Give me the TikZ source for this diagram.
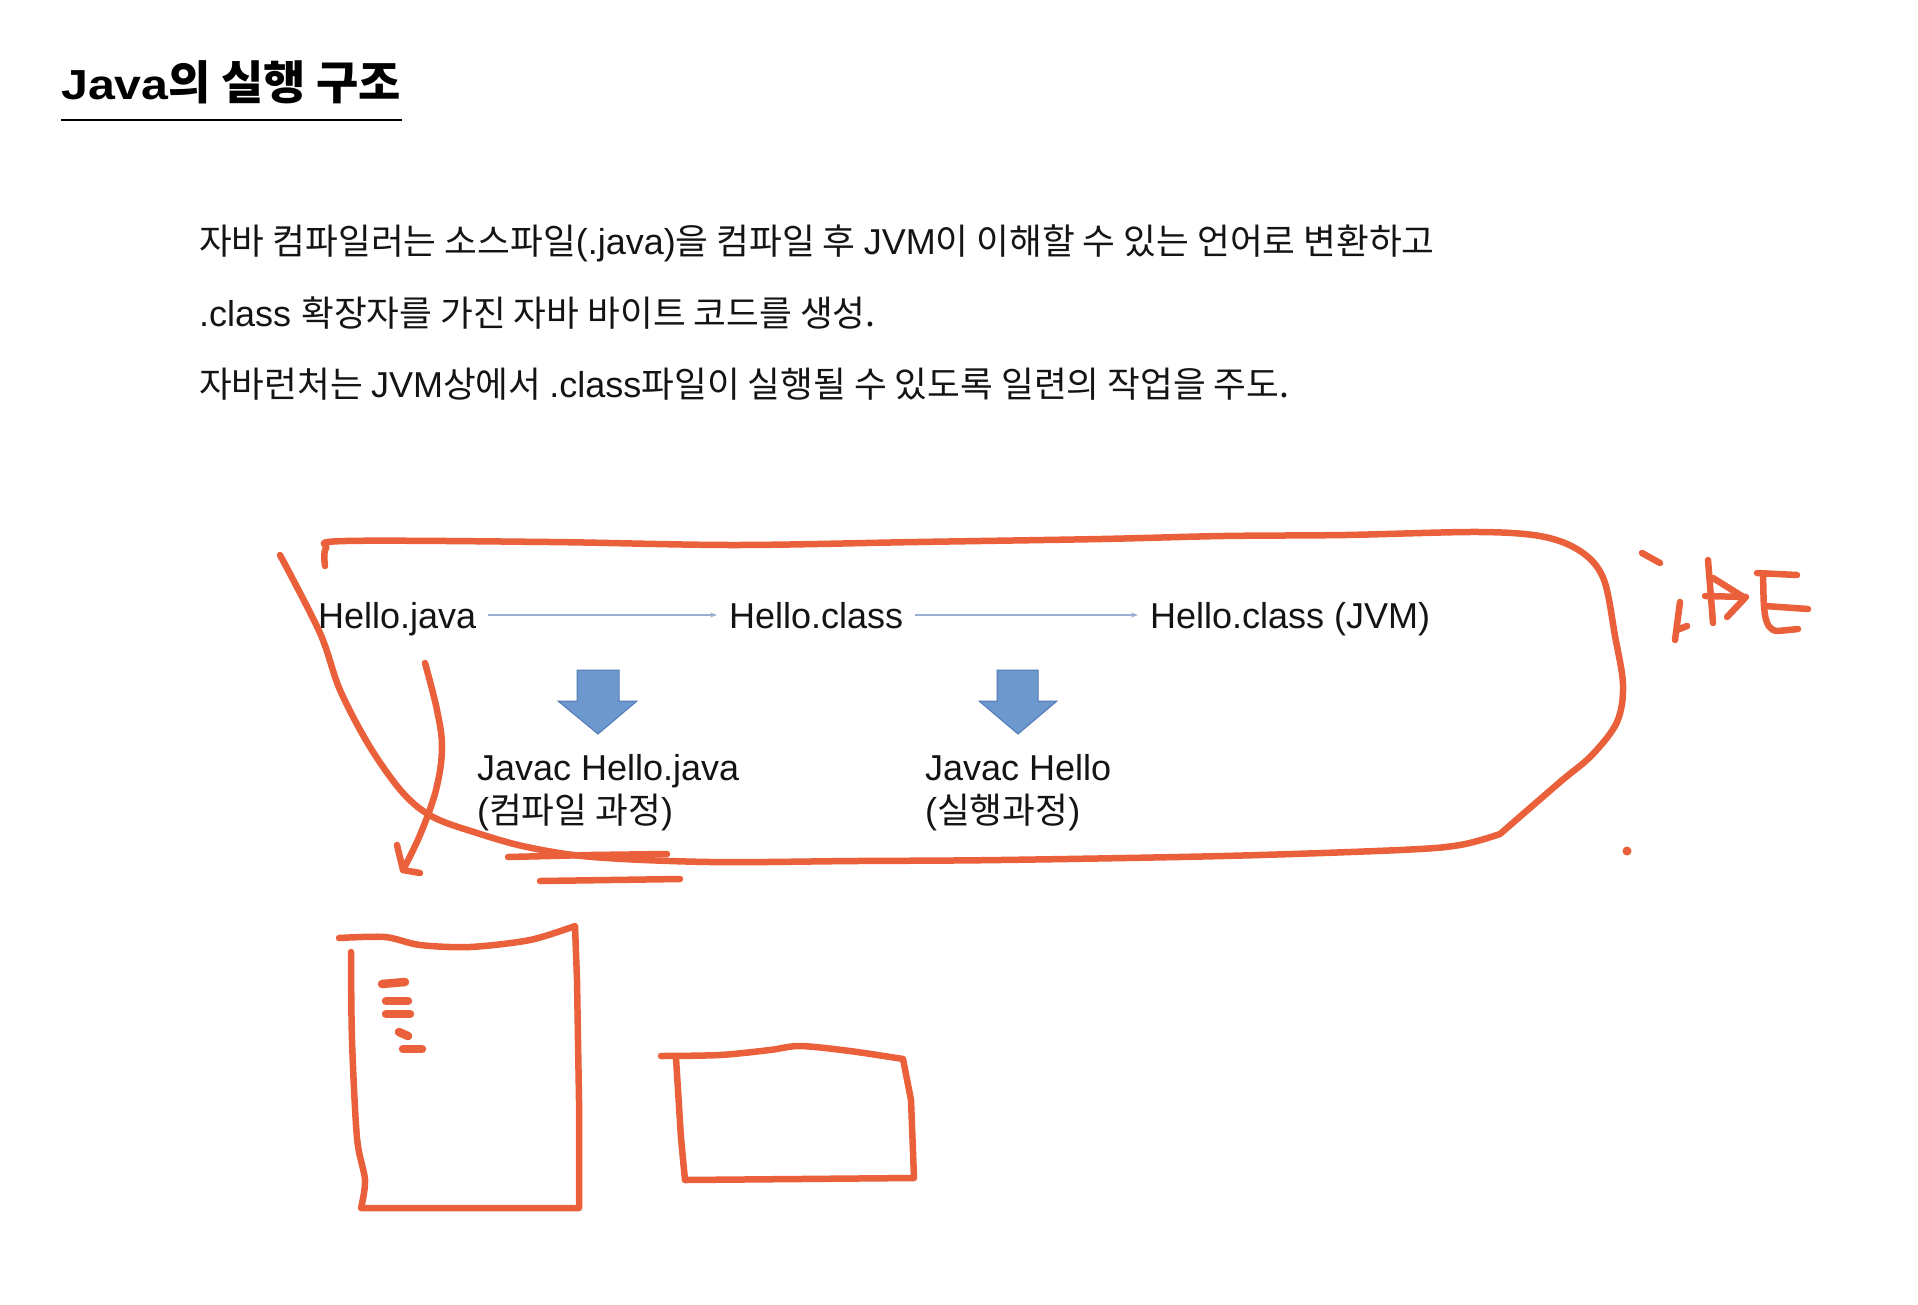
\documentclass[tikz,border=0pt]{standalone}
\usepackage{fontspec}
\setmainfont{Liberation Sans}
\newfontfamily\korfont[Scale=0.99]{Noto Sans CJK KR}
\newfontfamily\headfont[FakeStretch=1.15]{Liberation Sans Bold}
\newfontfamily\headkor{Noto Sans CJK KR}
\newcommand\kor[1]{{\korfont #1}}
\newcommand\hkor[1]{{\headkor\bfseries #1}}
\usetikzlibrary{arrows.meta,positioning}
\definecolor{penorange}{RGB}{233,96,58}
\definecolor{flowblue}{RGB}{150,175,210}
\definecolor{arrowfill}{RGB}{108,152,206}
\definecolor{arrowline}{RGB}{82,122,182}
\begin{document}
\begin{tikzpicture}[x=1pt,y=-1pt,
	pen/.style={draw=penorange,line width=6.5pt,line cap=round,line join=round},
	para/.style={anchor=base west,inner sep=0pt,text=black!92,font=\fontsize{36}{43}\selectfont},
	lbl/.style={anchor=west,text height=26pt,text depth=0pt,inner sep=12pt,text=black!92,font=\fontsize{36}{43}\selectfont},
	flow/.style={draw=flowblue,line width=1.5pt,-{Stealth[length=7pt,width=5pt]}},
	bigarrow/.style={fill=arrowfill,draw=arrowline,line width=1pt}]
	\useasboundingbox (0,0) rectangle (1918,1304);
	\node[anchor=base west,inner sep=0pt,font=\fontsize{42}{50}\selectfont] (title) at (61,99) {\headfont Java\hkor{\fontsize{46}{50}\selectfont 의 실행 구조}};
	\draw[line width=2.5pt] ([yshift=-21pt]title.base west) -- ([yshift=-21pt]title.base east);
	\node[para] (line1) at (199,254) {\kor{자바 컴파일러는 소스파일}(.java)\kor{을 컴파일 후 }JVM\kor{이 이해할 수 있는 언어로 변환하고}};
	\node[para] (line2) at (199,326) {.class \kor{확장자를 가진 자바 바이트 코드를 생성.}};
	\node[para] (line3) at (199,397) {\kor{자바런처는 }JVM\kor{상에서 }.class\kor{파일이 실행될 수 있도록 일련의 작업을 주도.}};
	\node[lbl] (hj) at (306,615) {Hello.java};
	\node[lbl] (hc) at (717,615) {Hello.class};
	\node[lbl] (hv) at (1138,615) {Hello.class (JVM)};
	\draw[flow] (hj.east) -- (hc.west);
	\draw[flow] (hc.east) -- (hv.west);
	\filldraw[bigarrow] (577,670) -- (619,670) -- (619,701) -- (637,701) -- (598,734) -- (558,701) -- (577,701) -- cycle;
	\filldraw[bigarrow] (997,670) -- (1038,670) -- (1038,701) -- (1057,701) -- (1018,734) -- (979,701) -- (997,701) -- cycle;
	\node[para] (javac) at (477,780) {Javac Hello.java};
	\node[para] (javacnote) at ([yshift=-43pt]javac.base west) {(\kor{컴파일 과정})};
	\node[para] (java) at (925,780) {Javac Hello};
	\node[para] (javanote) at ([yshift=-43pt]java.base west) {(\kor{실행과정})};
	\draw[pen] plot[smooth,tension=0.55] coordinates {(325,566) (326,548) (345,541) (550,542) (734,545) (917,542) (1101,539) (1223,536) (1345,535) (1480,532) (1545,537) (1583,553) (1604,580) (1615,636) (1623,685) (1617,722) (1592,755) (1560,782) (1500,834)}
		-- plot[smooth,tension=0.55] coordinates {(1500,834) (1460,845) (1400,850) (1223,856) (1000,860) (856,861) (710,862) (593,857) (527,847) (477,833) (433,817) (403,793) (370,747) (340,690) (320,633) (280,555)};
	\draw[pen] plot[smooth,tension=0.6] coordinates {(425,663) (437,710) (442,748) (436,790) (420,835) (403,870)};
	\draw[pen] (397,845) -- (403,870) -- (420,873);
	\draw[pen] (508,857) -- (590,855) -- (667,854);
	\draw[pen] (540,881) -- (680,879);
	\fill[penorange] (1627,851) circle (4.5pt);
	\draw[pen] (1642,553) -- (1660,563);
	\draw[pen] (1680,602) -- (1675,640);
	\draw[pen] (1677,630) -- (1687,626);
	\draw[pen] (1708,560) -- (1713,623);
	\draw[pen] (1713,578) -- (1745,598) -- (1727,617);
	\draw[pen] (1705,596) -- (1746,597);
	\draw[pen] (1757,573) -- (1797,575);
	\draw[pen] (1763,575) .. controls (1764,605) and (1762,631) .. (1778,631) -- (1798,629);
	\draw[pen] (1765,606) -- (1808,609);
	\draw[pen] plot[smooth,tension=0.5] coordinates {(339,938) (385,937) (420,945) (470,947) (530,940) (575,926)} -- (577,980) -- (579,1100) -- (579,1208) -- (361,1208)
		-- plot[smooth,tension=0.5] coordinates {(361,1208) (365,1180) (357,1138) (352,1040) (351,952)};
	\draw[pen,line width=8.5pt] (382,984) -- (405,982);
	\draw[pen,line width=8.5pt] (386,1001) -- (408,1001);
	\draw[pen,line width=8.5pt] (386,1014) -- (410,1014);
	\draw[pen,line width=8.5pt] (399,1032) -- (408,1036);
	\draw[pen,line width=8.5pt] (403,1049) -- (422,1049);
	\draw[pen] plot[smooth,tension=0.5] coordinates {(661,1056) (720,1055) (770,1050) (800,1046) (850,1051) (903,1059)} -- (911,1100) -- (914,1178) -- (685,1180) -- (681,1138) -- (676,1058);
\end{tikzpicture}
\end{document}
